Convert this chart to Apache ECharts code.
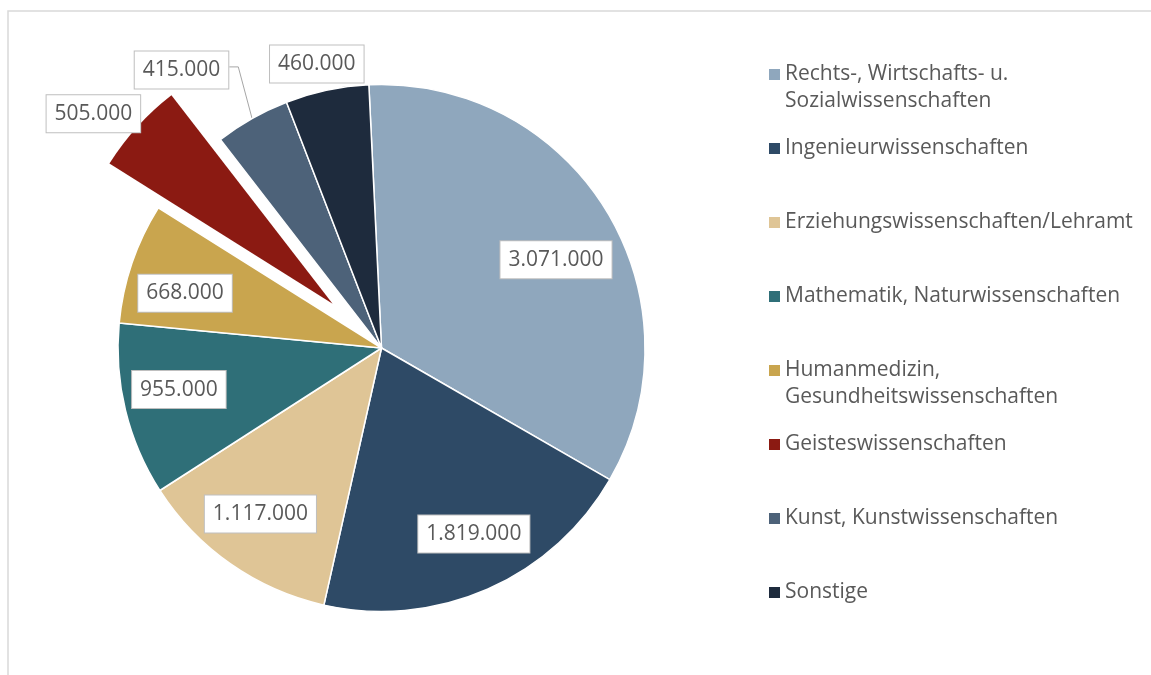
<!DOCTYPE html>
<html>
<head>
<meta charset="utf-8">
<script src="https://cdn.jsdelivr.net/npm/echarts@6/dist/echarts.min.js"></script>
<style>
  html, body { margin: 0; padding: 0; background: #fff; }
  #chart { width: 1151px; height: 675px; }
</style>
</head>
<body>
<div id="chart"></div>
<script>
// Studierende nach Fächergruppen
const categories = [
  "Rechts-, Wirtschafts- u.\nSozialwissenschaften",
  "Ingenieurwissenschaften",
  "Erziehungswissenschaften/Lehramt",
  "Mathematik, Naturwissenschaften",
  "Humanmedizin,\nGesundheitswissenschaften",
  "Geisteswissenschaften",
  "Kunst, Kunstwissenschaften",
  "Sonstige"
];
const values = [3071000, 1819000, 1117000, 955000, 668000, 505000, 415000, 460000];
const colors = ["#8fa7bd", "#2e4a66", "#dfc596", "#2f6f78", "#c9a54e", "#8b1a12", "#4d6279", "#1e2b3d"];
const explodedIndex = 5;
const outsideLabels = [5, 6, 7];
// label placement: [angle shift in degrees, radius fraction]
const labelPlace = [[-4.6, 0.742], [2.7, 0.788], [-1.15, 0.78], [-2.06, 0.785], [3.2, 0.774], [3.1, 1.409], [6.3, 1.30], [0.9, 1.105]];

const cx = 381.5, cy = 348, R = 263.5, startAngle = 92.75, explodeOffset = 66;
const font = "'Open Sans', sans-serif";
const total = values.reduce((a, b) => a + b, 0);

function midAngle(i) {
  let cum = 0;
  for (let k = 0; k < i; k++) cum += values[k];
  return startAngle - (cum + values[i] / 2) / total * 360;
}

function fmt(v) {
  return String(v).replace(/\B(?=(\d{3})+(?!\d))/g, ".");
}

const exMid = midAngle(explodedIndex) * Math.PI / 180;
const exCenter = [cx + explodeOffset * Math.cos(exMid), cy - explodeOffset * Math.sin(exMid)];

const chart = echarts.init(document.getElementById("chart"));

const option = {
  animation: false,
  backgroundColor: "#fff",
  graphic: [{
    type: "rect",
    shape: { x: 8, y: 11, width: 1200, height: 700 },
    style: { fill: "none", stroke: "#d9d9d9", lineWidth: 1.5 },
    silent: true
  }],
  legend: {
    orient: "vertical",
    left: 769,
    top: 34,
    padding: 0,
    itemWidth: 11,
    itemHeight: 11,
    itemGap: -7,
    icon: "rect",
    selectedMode: false,
    itemStyle: { borderWidth: 0 },
    data: categories.map(function (name, i) {
      return { name: name, itemStyle: { color: colors[i], borderWidth: 0 } };
    }),
    formatter: function (name) {
      return name.indexOf("\n") >= 0 ? "\n" + name : "\n" + name + "\n";
    },
    textStyle: { fontFamily: font, fontSize: 21, color: "#595959", lineHeight: 27 }
  },
  series: [{
    type: "pie",
    center: [cx, cy],
    radius: R,
    startAngle: startAngle,
    clockwise: true,
    avoidLabelOverlap: false,
    emphasis: { disabled: true },
    itemStyle: { borderColor: "#fff", borderWidth: 1.5 },
    label: {
      show: true,
      position: "inside",
      formatter: function (p) { return fmt(p.value); },
      fontFamily: font,
      fontSize: 21,
      color: "#595959",
      backgroundColor: "#fff",
      borderColor: "#bfbfbf",
      borderWidth: 1,
      padding: [8, 8, 8, 8]
    },
    labelLine: { show: false },
    labelLayout: function (params) {
      const i = params.dataIndex;
      const mid = midAngle(i);
      const a = (mid + labelPlace[i][0]) * Math.PI / 180;
      const r = labelPlace[i][1] * R;
      const x = cx + r * Math.cos(a);
      const y = cy - r * Math.sin(a);
      const out = { x: x, y: y, align: "center", verticalAlign: "middle" };
      if (i === 6) {
        const m = mid * Math.PI / 180;
        const w = params.labelRect.width;
        out.labelLinePoints = [
          [cx + R * Math.cos(m), cy - R * Math.sin(m)],
          [x + w / 2 + 9, y - 3],
          [x + w / 2, y - 3]
        ];
      }
      return out;
    },
    data: categories.map(function (name, i) {
      const ex = i === explodedIndex;
      return {
        name: name,
        value: values[i],
        itemStyle: ex ? { color: "none", borderWidth: 0 } : { color: colors[i] },
        label: { position: outsideLabels.indexOf(i) >= 0 ? "outside" : "inside" },
        labelLine: { show: i === 6, length: 10, length2: 10, lineStyle: { color: "#a6a6a6", width: 1 } }
      };
    })
  }, {
    // the pulled-out slice
    type: "pie",
    center: exCenter,
    radius: R,
    startAngle: startAngle,
    clockwise: true,
    silent: true,
    emphasis: { disabled: true },
    label: { show: false },
    labelLine: { show: false },
    data: categories.map(function (name, i) {
      const ex = i === explodedIndex;
      return {
        name: name,
        value: values[i],
        itemStyle: ex ? { color: colors[i], borderWidth: 0 } : { color: "none", borderWidth: 0 }
      };
    })
  }]
};

chart.setOption(option);
</script>
</body>
</html>
